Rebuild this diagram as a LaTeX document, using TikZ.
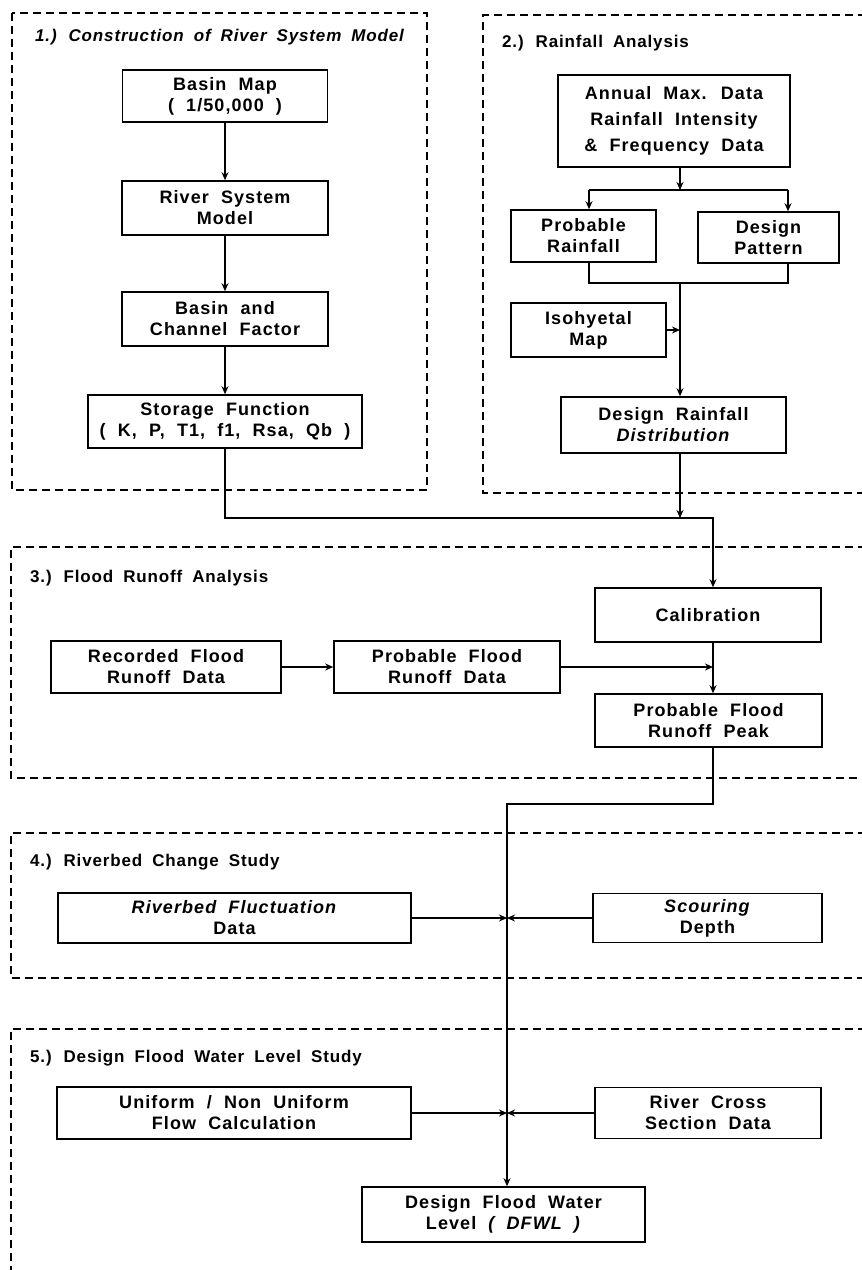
\documentclass[tikz,border=0pt]{standalone}
\usepackage{fontspec}
\setmainfont{Liberation Sans}
\newfontfamily\plotboxfont[LetterSpace=6,WordSpace=2]{Liberation Sans}
\newfontfamily\plottitlefont[LetterSpace=5,WordSpace=1.8]{Liberation Sans}
\usetikzlibrary{arrows.meta}
\begin{document}
\begin{tikzpicture}[x=1pt,y=-1pt,
  box/.style={draw, line width=1.6pt, inner sep=0pt, align=center,
    font={\plotboxfont\bfseries\fontsize{18}{21}\selectfont}},
  panel/.style={dash pattern=on 8pt off 5pt, line width=1.5pt},
  conn/.style={line width=1.5pt},
  arr/.style={conn, -{Stealth[length=8pt,width=7pt]}},
  ttl/.style={anchor=west, inner sep=0pt, font={\plottitlefont\bfseries\fontsize{17}{20}\selectfont}}]
\useasboundingbox[fill=white] (0,0) rectangle (862,1270);

% panels
\draw[panel] (12,13) rectangle (427,490);
\draw[panel] (866,15) -- (483,15) -- (483,493) -- (866,493);
\draw[panel] (866,547) -- (11,547) -- (11,778) -- (866,778);
\draw[panel] (866,833) -- (11,833) -- (11,978) -- (866,978);
\draw[panel] (866,1029) -- (11,1029) -- (11,1274);

% titles
\node[ttl] (t1) at (35,37) {\itshape 1.) Construction of River System Model};
\node[ttl] (t2) at (502,43) {2.) Rainfall Analysis};
\node[ttl] (t3) at (30,578) {3.) Flood Runoff Analysis};
\node[ttl] (t4) at (30,862) {4.) Riverbed Change Study};
\node[ttl] (t5) at (30,1058) {5.) Design Flood Water Level Study};

% panel 1
\node[box, minimum width=205pt, minimum height=52pt] (bm) at (225,96) {Basin Map\\( 1/50,000 )};
\node[box, minimum width=206pt, minimum height=54pt] (rsm) at (225,208) {River System\\Model};
\node[box, minimum width=206pt, minimum height=54pt] (bcf) at (225,319) {Basin and\\Channel Factor};
\node[box, minimum width=274pt, minimum height=53pt] (sf) at (225,421.5) {Storage Function\\( K, P, T1, f1, Rsa, Qb )};

% panel 2
\node[box, minimum width=232pt, minimum height=92pt, font={\plotboxfont\bfseries\fontsize{18}{26}\selectfont}] (am) at (674,121) {Annual Max. Data\\Rainfall Intensity\\\& Frequency Data};
\node[box, minimum width=145pt, minimum height=52pt] (pr) at (583.5,236) {Probable\\Rainfall};
\node[box, minimum width=141pt, minimum height=51pt] (dp) at (768.5,237.5) {Design\\Pattern};
\node[box, minimum width=155pt, minimum height=54pt] (im) at (588.5,330) {Isohyetal\\Map};
\node[box, minimum width=225pt, minimum height=56pt] (drd) at (673.5,425) {Design Rainfall\\\textit{Distribution}};

% panel 3
\node[box, minimum width=226pt, minimum height=54pt] (cal) at (708,615) {Calibration};
\node[box, minimum width=230pt, minimum height=52pt] (rfr) at (166,667) {Recorded Flood\\Runoff Data};
\node[box, minimum width=226pt, minimum height=52pt] (pfr) at (447,667) {Probable Flood\\Runoff Data};
\node[box, minimum width=227pt, minimum height=53pt] (pfp) at (708.5,720.5) {Probable Flood\\Runoff Peak};

% panel 4
\node[box, minimum width=353pt, minimum height=50pt] (rfd) at (234.5,918) {\textit{Riverbed Fluctuation}\\Data};
\node[box, minimum width=229pt, minimum height=49pt] (sd) at (707.5,918) {\textit{Scouring}\\Depth};

% panel 5
\node[box, minimum width=354pt, minimum height=52pt] (uf) at (234,1113) {Uniform / Non Uniform\\Flow Calculation};
\node[box, minimum width=226pt, minimum height=51pt] (rcs) at (708,1113) {River Cross\\Section Data};
\node[box, minimum width=283pt, minimum height=55pt] (dfwl) at (503.5,1214.5) {Design Flood Water\\Level \textit{( DFWL )}};

% coordinates
\coordinate (tA) at (680,190);
\coordinate (bL) at (589,190);
\coordinate (bR) at (788,190);
\coordinate (jL) at (589,283);
\coordinate (jR) at (788,283);
\coordinate (jM) at (680,283);
\coordinate (m1) at (225,518);
\coordinate (m2) at (713,518);
\coordinate (m3) at (680,518);
\coordinate (n1) at (713,804);
\coordinate (n2) at (507,804);
\coordinate (k4) at (507,918);
\coordinate (k5) at (507,1113);

% panel 1 connectors
\draw[arr] (bm) -- (rsm);
\draw[arr] (rsm) -- (bcf);
\draw[arr] (bcf) -- (sf);

% panel 2 connectors
\draw[arr] (am.south -| tA) -- (tA);
\draw[conn] (bL) -- (bR);
\draw[arr] (bL) -- (bL |- pr.north);
\draw[arr] (bR) -- (bR |- dp.north);
\draw[conn] (pr.south -| jL) -- (jL) -- (jR) -- (dp.south -| jR);
\draw[arr] (jM) -- (drd.north -| jM);
\draw[arr] (im.east) -- (im.east -| jM);

% to panel 3
\draw[arr] (sf.south) -- (m1) -- (m2) -- (cal.north -| m2);
\draw[arr] (drd.south -| m3) -- (m3);
\draw[arr] (rfr.east) -- (pfr.west);
\draw[arr] (pfr.east) -- (pfr.east -| m2);
\draw[arr] (cal.south -| m2) -- (pfp.north -| m2);

% to panels 4 and 5
\draw[arr] (pfp.south -| n1) -- (n1) -- (n2) -- (dfwl.north -| n2);
\draw[arr] (rfd.east) -- (rfd.east -| k4);
\draw[arr] (sd.west) -- (sd.west -| k4);
\draw[arr] (uf.east) -- (uf.east -| k5);
\draw[arr] (rcs.west) -- (rcs.west -| k5);
\end{tikzpicture}
\end{document}
